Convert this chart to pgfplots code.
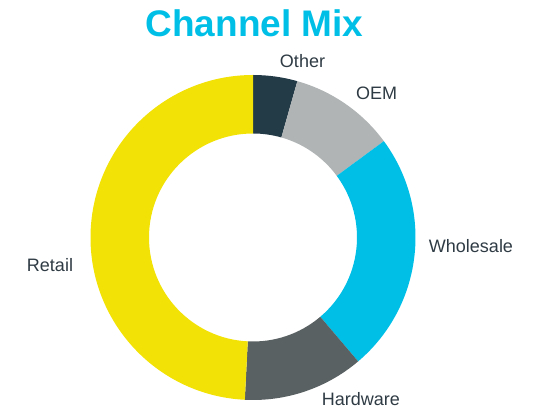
\documentclass[border=0pt]{standalone}
\usepackage{pgfplots}
\usepackage{pgfplotstable}
\pgfplotsset{compat=1.18}
\usepackage{fontspec}
\setmainfont{Liberation Sans}
\definecolor{col0}{HTML}{233A47}
\definecolor{col1}{HTML}{B1B4B5}
\definecolor{col2}{HTML}{00BFE7}
\definecolor{col3}{HTML}{5A6162}
\definecolor{col4}{HTML}{F2E205}
\definecolor{titlecol}{HTML}{00BFE7}
\definecolor{labelcol}{HTML}{2F3B44}
\pgfplotstableread{
label value
Other 4.4
OEM 10.5
Wholesale 23.9
Hardware 12.0
Retail 49.2
}\mixdata
\begin{document}
\begin{tikzpicture}
\begin{axis}[x=1pt,y=1pt,xmin=0,xmax=533,ymin=0,ymax=409,hide axis,clip=false]
\path (axis cs:0,0) rectangle (axis cs:533,409);
\def\cum{0}
\pgfplotsforeachungrouped \i in {0,...,4}{
  \pgfplotstablegetelem{\i}{value}\of\mixdata
  \pgfmathsetmacro\a{90-3.6*\cum}
  \pgfmathsetmacro\cum{\cum+\pgfplotsretval}
  \pgfmathsetmacro\b{90-3.6*\cum}
  \edef\temp{\noexpand\fill[col\i] ([shift={(\a:162.5pt)}]axis cs:253,171.5) arc[start angle=\a, end angle=\b, radius=162.5pt] -- ([shift={(\b:104pt)}]axis cs:253,171.5) arc[start angle=\b, end angle=\a, radius=104pt] -- cycle;}
  \temp
}
\node[anchor=base,inner sep=0,font=\fontsize{37}{40}\selectfont\bfseries,text=titlecol] at (axis cs:254.5,372) {Channel Mix};
\tikzset{lab/.style={anchor=base,inner sep=0,font=\fontsize{18}{20}\selectfont,text=labelcol}}
\node[lab] at (axis cs:302.5,341) {Other};
\node[lab] at (axis cs:376.5,309) {OEM};
\node[lab] at (axis cs:471,156) {Wholesale};
\node[lab] at (axis cs:361,3) {Hardware};
\node[lab] at (axis cs:50,137) {Retail};
\end{axis}
\end{tikzpicture}
\end{document}
